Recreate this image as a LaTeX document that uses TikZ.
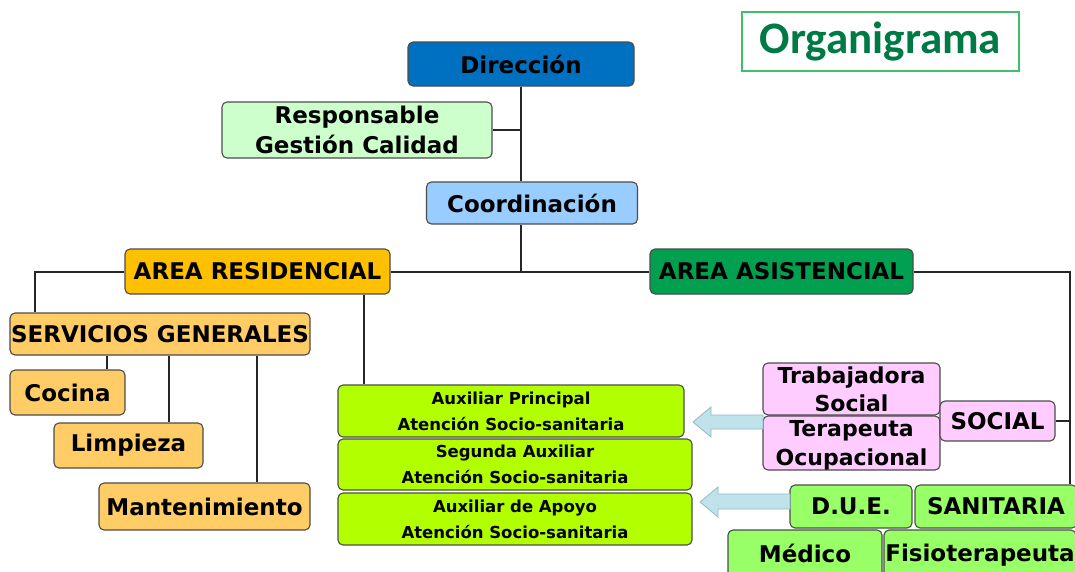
\documentclass[tikz,border=0pt]{standalone}
\usepackage{fontspec}
\setmainfont{DejaVu Sans}
\newfontfamily\calfont{Carlito}
\definecolor{cDir}{HTML}{0070C0}
\definecolor{cResp}{HTML}{CCFFCC}
\definecolor{cCoord}{HTML}{99CCFF}
\definecolor{cAR}{HTML}{FFC000}
\definecolor{cAA}{HTML}{00A050}
\definecolor{cSG}{HTML}{FFCC66}
\definecolor{cAux}{HTML}{B2FF00}
\definecolor{cPink}{HTML}{FFCCFF}
\definecolor{cSan}{HTML}{99FF66}
\definecolor{cArrow}{HTML}{C0E2EA}
\definecolor{cArrowB}{HTML}{93B8C4}
\definecolor{cTitle}{HTML}{007A45}
\definecolor{cTitleB}{HTML}{3CC06A}
\tikzset{
  box/.style={draw=black!70, line width=1.1pt, rounded corners=5pt, inner sep=0pt,
    align=center, font=\fontsize{23}{30}\selectfont\bfseries},
  small/.style={font=\fontsize{16.5}{26}\selectfont\bfseries},
  link/.style={line width=2pt, black!85},
  blockarrow/.style={fill=cArrow, draw=cArrowB, line width=0.8pt, line join=miter}
}
\begin{document}
\begin{tikzpicture}[x=1pt,y=-1pt]
\useasboundingbox (0,0) rectangle (1075,571);
\fill[white] (0,0) rectangle (1075,571);
% title
\node[draw=cTitleB, line width=1.6pt, minimum width=277, minimum height=59, inner sep=0pt,
  text=cTitle, font=\calfont\fontsize{45}{50}\selectfont\bfseries] (title) at (880.5,41.5) {Organigrama};
% top
\node[box, fill=cDir, minimum width=226, minimum height=44] (dir) at (521,64) {Dirección};
\node[box, fill=cResp, minimum width=270, minimum height=56] (resp) at (357,130) {Responsable\\Gestión Calidad};
\node[box, fill=cCoord, minimum width=211, minimum height=42] (coord) at (532,203) {Coordinación};
% areas
\node[box, fill=cAR, minimum width=265, minimum height=45] (ar) at (257.5,271.5) {AREA RESIDENCIAL};
\node[box, fill=cAA, minimum width=263, minimum height=45] (aa) at (781.5,271.5) {AREA ASISTENCIAL};
% residencial
\node[box, fill=cSG, minimum width=300, minimum height=42] (sg) at (160,334) {SERVICIOS GENERALES};
\node[box, fill=cSG, minimum width=115, minimum height=45] (cocina) at (67.5,392.5) {Cocina};
\node[box, fill=cSG, minimum width=149, minimum height=45] (limp) at (128.5,445.5) {Limpieza};
\node[box, fill=cSG, minimum width=211, minimum height=47] (mant) at (204.5,506.5) {Mantenimiento};
\node[box, small, fill=cAux, minimum width=346, minimum height=52] (aux1) at (511,411) {Auxiliar Principal\\Atención Socio-sanitaria};
\node[box, small, fill=cAux, minimum width=354, minimum height=51] (aux2) at (515,464.5) {Segunda Auxiliar\\Atención Socio-sanitaria};
\node[box, small, fill=cAux, minimum width=354, minimum height=52] (aux3) at (515,519) {Auxiliar de Apoyo\\Atención Socio-sanitaria};
% asistencial
\node[box, fill=cPink, minimum width=177, minimum height=52] (trab) at (851.5,389) {};
\node[box, fill=cPink, minimum width=177, minimum height=54] (tera) at (851.5,443) {};
\node[font=\fontsize{22}{28}\selectfont\bfseries, align=center, inner sep=0pt] (trabtxt) at (851.5,389) {Trabajadora\\Social};
\node[font=\fontsize{22}{29}\selectfont\bfseries, align=center, inner sep=0pt] (teratxt) at (851.5,445) {Terapeuta\\Ocupacional};
\node[box, fill=cPink, minimum width=115, minimum height=40] (social) at (997.5,421) {SOCIAL};
\node[box, fill=cSan, minimum width=122, minimum height=43] (due) at (851,506.5) {D.U.E.};
\node[box, fill=cSan, minimum width=162, minimum height=43] (san) at (996,506.5) {SANITARIA};
\node[box, fill=cSan, minimum width=154, minimum height=50] (med) at (805,555) {\raisebox{4pt}{Médico}};
\node[box, fill=cSan, minimum width=192, minimum height=50] (fisio) at (980,555) {\raisebox{4pt}{Fisioterapeuta}};
% coordinates for connector columns
\coordinate (sgx) at (35,0);
\coordinate (c1) at (107,0);
\coordinate (c2) at (169,0);
\coordinate (c3) at (257,0);
\coordinate (c4) at (364,0);
\coordinate (rx) at (1070,0);
% connectors
\draw[link] (dir.south) -- (dir.south |- coord.north);
\draw[link] (resp.east) -- (resp.east -| dir.south);
\draw[link] (coord.south -| dir.south) -- (dir.south |- ar.east);
\draw[link] (ar.east) -- (aa.west);
\draw[link] (ar.west) -| (sgx |- sg.north);
\draw[link] (c1 |- sg.south) -- (c1 |- cocina.north);
\draw[link] (c2 |- sg.south) -- (c2 |- limp.north);
\draw[link] (c3 |- sg.south) -- (c3 |- mant.north);
\draw[link] (c4 |- ar.south) -- (c4 |- aux1.north);
\draw[link] (aa.east) -| (rx |- san.north);
\draw[link] (rx |- social.east) -- (social.east);
% block arrows
\draw[blockarrow] (693,422) -- (711,407) -- (711,415) -- (763,415) -- (763,429) -- (711,429) -- (711,437) -- cycle;
\draw[blockarrow] (700,502) -- (718,487) -- (718,494) -- (790,494) -- (790,509) -- (718,509) -- (718,517) -- cycle;
\end{tikzpicture}
\end{document}
